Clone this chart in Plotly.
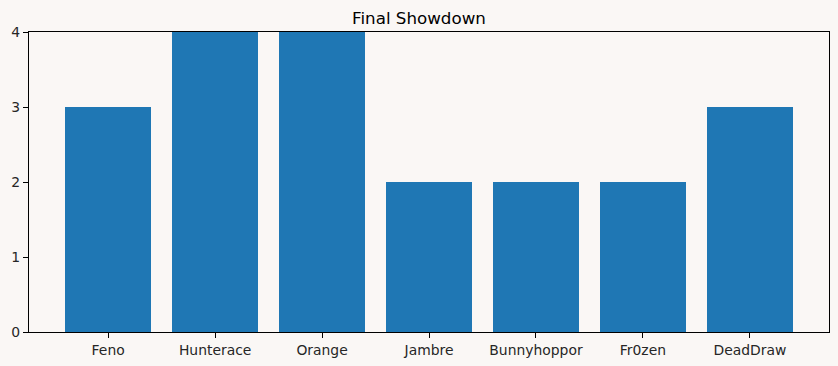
import plotly.graph_objects as go

players = ["Feno", "Hunterace", "Orange", "Jambre", "Bunnyhoppor", "Fr0zen", "DeadDraw"]
wins = [3, 4, 4, 2, 2, 2, 3]
title = "Final Showdown"

bg = "#faf7f5"
fig = go.Figure(go.Bar(x=list(range(len(players))), y=wins, width=0.8,
                       marker=dict(color="#1f77b4", line=dict(width=0))))
fig.update_layout(
    width=838, height=366,
    margin=dict(l=29, r=9, t=32, b=34),
    paper_bgcolor=bg, plot_bgcolor=bg,
    font=dict(family="DejaVu Sans", size=13.9, color="#262626"),
    title=dict(text=title, x=0.5, xanchor="center", y=1 - 18 / 366, yanchor="middle",
               font=dict(size=16.7, color="black")),
    showlegend=False,
    bargap=0,
)
fig.update_xaxes(range=[-0.74, 6.74], tickmode="array", tickvals=list(range(len(players))),
                 ticktext=players, showgrid=False, zeroline=False,
                 showline=True, linecolor="black", linewidth=1.2, mirror=True,
                 ticks="outside", ticklen=5, tickcolor="black", tickwidth=1)
fig.update_yaxes(range=[0, 4], tickvals=[0, 1, 2, 3, 4], showgrid=False, zeroline=False,
                 showline=True, linecolor="black", linewidth=1.2, mirror=True,
                 ticks="outside", ticklen=5, tickcolor="black", tickwidth=1)
fig.write_html("out.html", config={"displayModeBar": False},
               post_script="document.body.style.margin='0';document.body.style.background='#faf7f5';document.body.style.overflow='hidden';")
